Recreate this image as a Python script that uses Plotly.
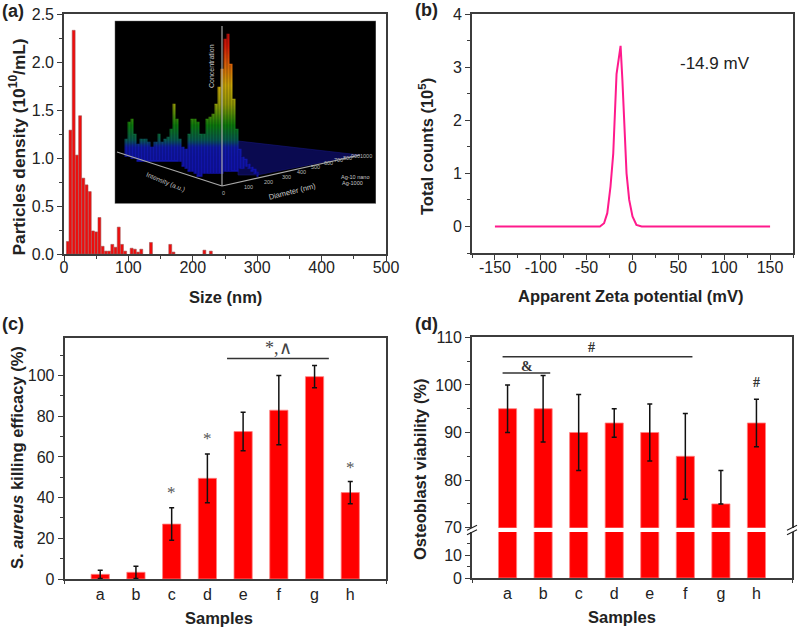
import numpy as np
import plotly.graph_objects as go

W, H = 800, 628
# ---------- data ----------
size_nm = [6, 10, 15, 20, 25, 30, 35, 40, 45, 50, 55, 60, 65, 70, 75, 80, 85, 90, 95,
           105, 110, 115, 120, 135, 165, 170, 218, 228]
density = [0.13, 1.29, 2.33, 1.03, 1.44, 0.79, 0.72, 0.65, 0.24, 0.23, 0.38, 0.08, 0.03, 0.03,
           0.10, 0.07, 0.28, 0.10, 0.03, 0.06, 0.05, 0.02, 0.05, 0.12, 0.10, 0.02, 0.04, 0.03]

zeta_mv = [-150, -100, -50, -35.5, -31, -27.5, -24, -21, -17.4, -15.6, -13, -11, -8.3, -6.5,
           -3.6, 0, 4.3, 10, 50, 100, 150]
zeta_counts = [0, 0, 0, 0, 0.06, 0.25, 0.75, 1.37, 2.87, 3.06, 3.4, 2.75, 1.75, 1.0,
               0.5, 0.19, 0.03, 0, 0, 0, 0]
zeta_ticks = [-150, -100, -50, 0, 50, 100, 150]
zeta_ticktext = ["-150", "-100", "-50", "0", "50", "100", "150"]

samples = ["a", "b", "c", "d", "e", "f", "g", "h"]
sample_pos = [1, 2, 3, 4, 5, 6, 7, 8]
killing = [2.3, 3.3, 27, 49.5, 72.5, 83, 99.5, 42.5]
killing_err = [2, 3, 8, 12, 9.5, 17, 5.5, 5.5]
viability = [95, 95, 90, 92, 90, 85, 75, 92]
viab_plus = [5, 7, 8, 3, 6, 9, 7, 5]
viab_minus = [5, 7, 8, 3, 6, 9, 0, 5]

# inset surface silhouette, in inset units
inset_cols = [122, 125, 128, 131, 134, 137, 140, 143, 146, 149, 152, 155, 158, 161, 164, 167, 170,
              173, 176, 179, 182, 185, 188, 191, 194, 197, 200, 203, 206, 209, 212, 215, 218, 221,
              224, 227, 230, 233, 236, 239, 242, 245, 248, 251, 254, 257]
inset_top = [153, 138, 122, 118, 135, 143, 139, 138, 139, 142, 147, 142, 134, 142, 140, 137, 128,
             104, 118, 139, 146, 148, 135, 120, 118, 122, 135, 134, 120, 117, 114, 105, 86, 68,
             38, 34, 65, 100, 130, 150, 156, 160, 163, 166, 170, 172]
inset_bottom = [154, 156, 157, 158, 159, 160, 160, 160, 160, 160, 160, 160, 160, 160, 160, 160, 160,
                160, 160, 162, 165, 168, 170, 172, 174, 175, 175, 174, 174, 173, 173, 173, 173, 173,
                172, 171, 171, 170, 170, 169, 168, 167, 168, 170, 173, 175]
inset_rows = [float(v) for v in np.arange(30, 180, 2.5)]
floor_x = [238, 360, 257, 238]
floor_y = [141, 155, 175, 175]
axis_left_x, axis_left_y = [117, 222], [152, 186]
axis_right_x, axis_right_y = [222, 360], [186, 155]
axis_up_x, axis_up_y = [222, 222], [186, 26]
inset_ticks = [("0", 223, 193), ("100", 248, 187), ("200", 268, 182), ("300", 286, 177),
               ("400", 301, 172), ("500", 315, 167), ("600", 328, 163), ("700", 338, 160),
               ("800", 347, 158), ("900", 355, 156), ("1000", 366, 156)]

SANS = "Liberation Sans, Arial, sans-serif"
SERIF = "Liberation Serif, Times New Roman, serif"
INK = "#222222"
LINE = "#3c3c3c"


def fx(p):
    return p / W


def fy(p):
    return 1 - p / H


fig = go.Figure()
layout_axes = {}


def axis(name, dom, rng, **kw):
    base = dict(domain=dom, range=rng, showgrid=False, zeroline=False, showline=True, linecolor=LINE,
                linewidth=1.6, tickcolor=LINE, tickwidth=1.3, ticklen=5, ticks="outside",
                tickfont=dict(family=SANS, size=16, color=INK))
    base.update(kw)
    layout_axes[name] = base


def minor(dtick=None, tickvals=None):
    m = dict(ticks="outside", ticklen=3, tickcolor=LINE, tickwidth=1.1, showgrid=False)
    if dtick is not None:
        m["dtick"] = dtick
    if tickvals is not None:
        m["tickvals"] = tickvals
    return m


# ---------- panel a ----------
axis("xaxis", [fx(64), fx(386)], [0, 500], anchor="y", mirror=True, tickvals=[0, 100, 200, 300, 400, 500],
     ticklabelstandoff=-7, minor=minor(tickvals=[50, 150, 250, 350, 450]))
axis("yaxis", [fy(254), fy(14)], [0, 2.5], anchor="x", mirror=True, tickvals=[0, .5, 1, 1.5, 2, 2.5],
     ticktext=["0.0", "0.5", "1.0", "1.5", "2.0", "2.5"], minor=minor(tickvals=[.25, .75, 1.25, 1.75, 2.25]))
fig.add_bar(x=size_nm, y=density, width=4.5, xaxis="x", yaxis="y",
            marker=dict(color="#f00c0c", line=dict(color="#a05050", width=0.6)))

# ---------- panel b ----------
axis("xaxis2", [fx(472), fx(793)], [-175, 175], anchor="y2", mirror=True, ticklabelstandoff=-6,
     tickvals=zeta_ticks, ticktext=zeta_ticktext, minor=minor(tickvals=[-175, -125, -75, -25, 25, 75, 125, 175]))
axis("yaxis2", [fy(253), fy(14)], [-0.5, 4], anchor="x2", mirror=True, tickvals=[0, 1, 2, 3, 4],
     minor=minor(tickvals=[-.5, .5, 1.5, 2.5, 3.5]))
fig.add_scatter(x=zeta_mv, y=zeta_counts, mode="lines", xaxis="x2", yaxis="y2",
                line=dict(color="#ff1a8c", width=2))

# ---------- panel c ----------
axis("xaxis3", [fx(64.5), fx(386)], [0, 9], anchor="y3", mirror=True, ticks="", tickvals=sample_pos,
     ticktext=samples, minor=minor(tickvals=[0, 9]))
axis("yaxis3", [fy(579), fy(338)], [0, 118.5], anchor="x3", mirror=True, tickvals=[0, 20, 40, 60, 80, 100],
     minor=minor(tickvals=[10, 30, 50, 70, 90, 110]))
ebar = dict(type="data", thickness=1.5, width=2.5, color="#111111")
fig.add_bar(x=sample_pos, y=killing, width=0.51, xaxis="x3", yaxis="y3",
            marker=dict(color="#ff0000", line=dict(color="#ff8080", width=0.8)),
            error_y=dict(array=killing_err, **ebar))

# ---------- panel d (broken axis) ----------
axis("xaxis4", [fx(472), fx(792)], [0, 9], anchor="y4", ticks="", tickvals=sample_pos, ticktext=samples,
     minor=minor(tickvals=[0, 9]))
axis("yaxis4", [fy(578), fy(532)], [0, 20], anchor="x4", mirror=True, tickvals=[0, 10],
     minor=minor(tickvals=[5, 15]))
axis("xaxis6", [fx(472), fx(792)], [0, 9], anchor="y6", side="top", ticks="", showticklabels=False)
axis("yaxis6", [fy(527.7), fy(337.3)], [70, 110], anchor="x6", mirror=True, tickvals=[70, 80, 90, 100, 110],
     minor=minor(tickvals=[75, 85, 95, 105]))
fig.add_bar(x=sample_pos, y=viability, width=0.51, xaxis="x4", yaxis="y4",
            marker=dict(color="#ff0000", line=dict(color="#ff8080", width=0.8)))
fig.add_bar(x=sample_pos, y=viability, width=0.51, xaxis="x6", yaxis="y6",
            marker=dict(color="#ff0000", line=dict(color="#ff8080", width=0.8)),
            error_y=dict(array=viab_plus, arrayminus=viab_minus, **ebar))

# ---------- inset ----------
inset_l, inset_r, inset_t, inset_b = 114.7, 376, 20.7, 203.7
axis("xaxis5", [fx(inset_l), fx(inset_r)], [inset_l, inset_r], anchor="y5", showline=False, ticks="",
     showticklabels=False)
axis("yaxis5", [fy(inset_b), fy(inset_t)], [inset_b, inset_t], anchor="x5", showline=False, ticks="",
     showticklabels=False)
z = [[(r if (inset_top[j] <= r <= inset_bottom[j]) else None) for j in range(len(inset_cols))] for r in inset_rows]
fig.add_heatmap(x=inset_cols, y=inset_rows, z=z, xaxis="x5", yaxis="y5", zmin=30, zmax=178, showscale=False,
                hoverongaps=False, zsmooth="best",
                colorscale=[[0, "#b00a0a"], [0.1, "#d01808"], [0.22, "#d85a08"], [0.37, "#c8a408"], [0.5, "#909808"],
                            [0.64, "#0c7a0c"], [0.74, "#085a50"], [0.79, "#1018a8"], [1, "#1010a8"]])
mesh_x, mesh_y = [], []
for c, a, b in zip(inset_cols, inset_top, inset_bottom):
    mesh_x += [c, c, None]
    mesh_y += [a, b, None]
fig.add_scatter(x=mesh_x, y=mesh_y, mode="lines", xaxis="x5", yaxis="y5", line=dict(color="rgba(0,0,0,0.35)", width=0.9))
for xs, ys in [(axis_left_x, axis_left_y), (axis_right_x, axis_right_y), (axis_up_x, axis_up_y)]:
    fig.add_scatter(x=xs, y=ys, mode="lines", xaxis="x5", yaxis="y5", line=dict(color="#a8a8a8", width=1.2))

shapes = []
ann = []
# inset backdrop + floor
shapes.append(dict(type="rect", xref="x5", yref="y5", x0=inset_l, x1=inset_r, y0=inset_t, y1=inset_b,
                   fillcolor="#000000", line=dict(color="#9a9a9a", width=0.8), layer="below"))
floor_path = "M " + " L ".join(f"{a},{b}" for a, b in zip(floor_x, floor_y)) + " Z"
shapes.append(dict(type="path", xref="x5", yref="y5", path=floor_path, fillcolor="#0a0a50",
                   line=dict(color="#16167a", width=0.6), layer="below"))


def text(t, x, y, size=15.5, color=INK, family=SANS, angle=0, xref="paper", yref="paper", paper=True):
    ann.append(dict(text=t, x=fx(x) if paper else x, y=fy(y) if paper else y, xref=xref, yref=yref, showarrow=False,
                    font=dict(family=family, size=size, color=color), textangle=angle,
                    xanchor="center", yanchor="middle"))


for t, x, y in inset_ticks:
    text(t, x, y, size=5.5, color="#b8b8b8", xref="x5", yref="y5", paper=False)
text("Concentration", 212, 66, size=7, color="#c8c8c8", angle=-90, xref="x5", yref="y5", paper=False)
text("Intensity (a.u.)", 165, 182, size=6.5, color="#c8c8c8", angle=22, xref="x5", yref="y5", paper=False)
text("Diameter (nm)", 292, 191, size=7.5, color="#c8c8c8", angle=-14, xref="x5", yref="y5", paper=False)
text("Ag-10 nano", 355, 177, size=5.5, color="#c8c8c8", xref="x5", yref="y5", paper=False)
text("Ag-1000", 352, 183, size=5.5, color="#c8c8c8", xref="x5", yref="y5", paper=False)

# panel letters
text("<b>(a)</b>", 13, 11, size=18)
text("<b>(b)</b>", 426, 10, size=18)
text("<b>(c)</b>", 13, 324, size=18)
text("<b>(d)</b>", 426, 324, size=18)

# axis titles
T = 16.5
text("<b>Size (nm)</b>", 225, 297, size=T)
text("<b>Apparent Zeta potential (mV)</b>", 630.5, 296, size=T)
text("<b>Samples</b>", 219, 617.5, size=T)
text("<b>Samples</b>", 622, 617, size=T)
text("<b>Particles density (10<sup>10</sup>/mL)</b>", 17.5, 147, size=17.3, angle=-90)
text("<b>Total counts (10<sup>5</sup>)</b>", 426, 147, size=T, angle=-90)
text("<b>S. <i>aureus</i> killing efficacy (%)</b>", 17, 458, size=T, angle=-90)
text("<b>Osteoblast viability (%)</b>", 420, 469, size=T, angle=-90)

# in-plot labels
text("-14.9 mV", 715, 63, size=17)
ast = dict(size=17, color="#555555", family=SERIF)
text("*", 3, 42.5, xref="x3", yref="y3", paper=False, **ast)
text("*", 4, 69, xref="x3", yref="y3", paper=False, **ast)
text("*", 8, 55, xref="x3", yref="y3", paper=False, **ast)
text("*,∧", 6.0, 113.5, xref="x3", yref="y3", paper=False, size=18, color="#444444", family=SERIF)
text("<b>#</b>", 3.37, 107.9, xref="x6", yref="y6", paper=False, size=14, color="#333333", family=SERIF)
text("<b>&</b>", 1.54, 103.8, xref="x6", yref="y6", paper=False, size=14, color="#333333", family=SERIF)
text("<b>#</b>", 8, 100.5, xref="x6", yref="y6", paper=False, size=14, color="#333333", family=SERIF)

# significance brackets
for xr, yr, a, b, v in [("x3", "y3", 4.55, 7.4, 108.4), ("x6", "y6", 0.86, 6.2, 105.9), ("x6", "y6", 0.86, 2.2, 102.5)]:
    shapes.append(dict(type="line", xref=xr, yref=yr, x0=a, x1=b, y0=v, y1=v, line=dict(color="#333333", width=1.4)))

# axis break marks
for cx in (472, 792):
    for dy in (-2.2, 2.2):
        shapes.append(dict(type="line", xref="paper", yref="paper", x0=fx(cx - 5), x1=fx(cx + 5),
                           y0=fy(530 + dy + 2.5), y1=fy(530 + dy - 2.5), line=dict(color="#222222", width=1.2)))

fig.update_layout(width=W, height=H, margin=dict(l=0, r=0, t=0, b=0, pad=0, autoexpand=False), showlegend=False,
                  paper_bgcolor="white", plot_bgcolor="white", barmode="overlay",
                  shapes=shapes, annotations=ann, **layout_axes)
fig.write_html("out.html", post_script="document.body.style.margin='0';", config={"displayModeBar": False})
